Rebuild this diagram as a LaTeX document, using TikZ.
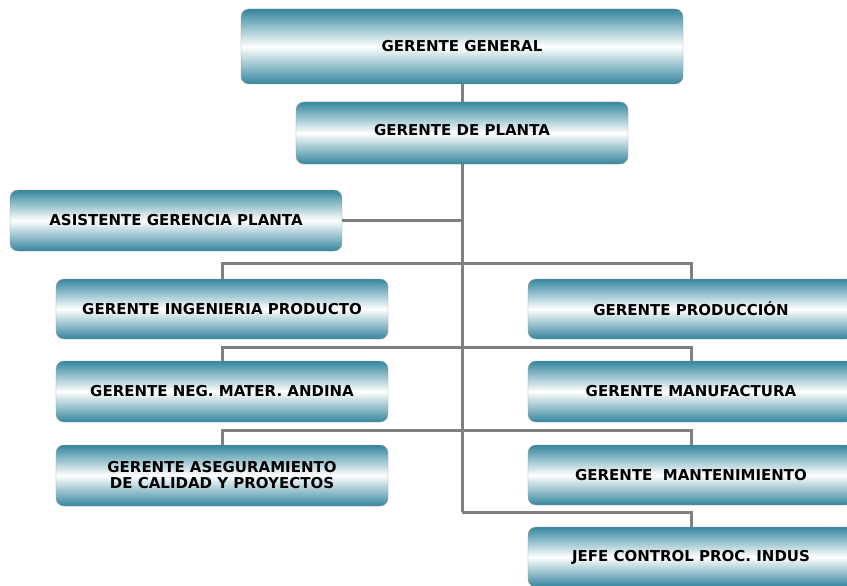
\documentclass[tikz,border=0pt]{standalone}
\usepackage{fontspec}
\setmainfont{DejaVu Sans}
\usepackage{xcolor}
\usepackage{tikz}
\usetikzlibrary{positioning}
\definecolor{boxteal}{RGB}{52,134,158}
\definecolor{linegray}{RGB}{128,128,128}
\definecolor{boxborder}{RGB}{150,150,150}
\tikzset{
    orgbox/.style={rectangle, rounded corners=8pt, minimum width=332pt, minimum height=61pt, text centered, align=center, draw=boxborder, thin, top color=boxteal, bottom color=boxteal, middle color=white, font=\bfseries\fontsize{15}{16}\selectfont},
    link/.style={draw=linegray, line width=3pt}
}

\begin{document}
\begin{tikzpicture}[x=1pt, y=-1pt]
    \clip (0,0) rectangle (847,586);
    \useasboundingbox (0,0) rectangle (847,586);
    % Top management
    \node[orgbox, minimum width=442pt, minimum height=75pt] (gerente_general) at (462,46.5) {GERENTE GENERAL};
    \node[orgbox, minimum height=62pt] (gerente_planta) at (462,133) {\raisebox{6pt}{GERENTE DE PLANTA}};
    \node[orgbox] (asistente) at (176,220.5) {ASISTENTE GERENCIA PLANTA};
    % Left column
    \node[orgbox, minimum height=60pt] (ing_producto) at (222,309) {GERENTE INGENIERIA PRODUCTO};
    \node[orgbox] (neg_andina) at (222,391.5) {GERENTE NEG. MATER. ANDINA};
    \node[orgbox] (aseguramiento) at (222,475.5) {GERENTE ASEGURAMIENTO\\DE CALIDAD Y PROYECTOS};
    % Right column
    \node[orgbox, minimum width=326pt, minimum height=60pt] (produccion) at (691,309) {GERENTE PRODUCCIÓN};
    \node[orgbox, minimum width=326pt] (manufactura) at (691,391.5) {GERENTE MANUFACTURA};
    \node[orgbox, minimum width=326pt, minimum height=60pt] (mantenimiento) at (691,475) {GERENTE\ \ MANTENIMIENTO};
    \node[orgbox, minimum width=326pt, minimum height=60pt] (jefe_control) at (691,557) {JEFE CONTROL PROC. INDUS};

    % Bus points on the trunk
    \coordinate (bus_one) at (462,263);
    \coordinate (bus_two) at (462,347);
    \coordinate (bus_three) at (462,430);
    \coordinate (trunk_end) at (462,512);

    % Links
    \draw[link] (gerente_general.south) -- (gerente_planta.north);
    \draw[link] (gerente_planta.south) -- (trunk_end);
    \draw[link] (asistente.east) -- (asistente.east -| trunk_end);
    \draw[link] (ing_producto.north) |- (bus_one) -| (produccion.north);
    \draw[link] (neg_andina.north) |- (bus_two) -| (manufactura.north);
    \draw[link] (aseguramiento.north) |- (bus_three) -| (mantenimiento.north);
    \draw[link] (trunk_end) -| (jefe_control.north);
\end{tikzpicture}
\end{document}
